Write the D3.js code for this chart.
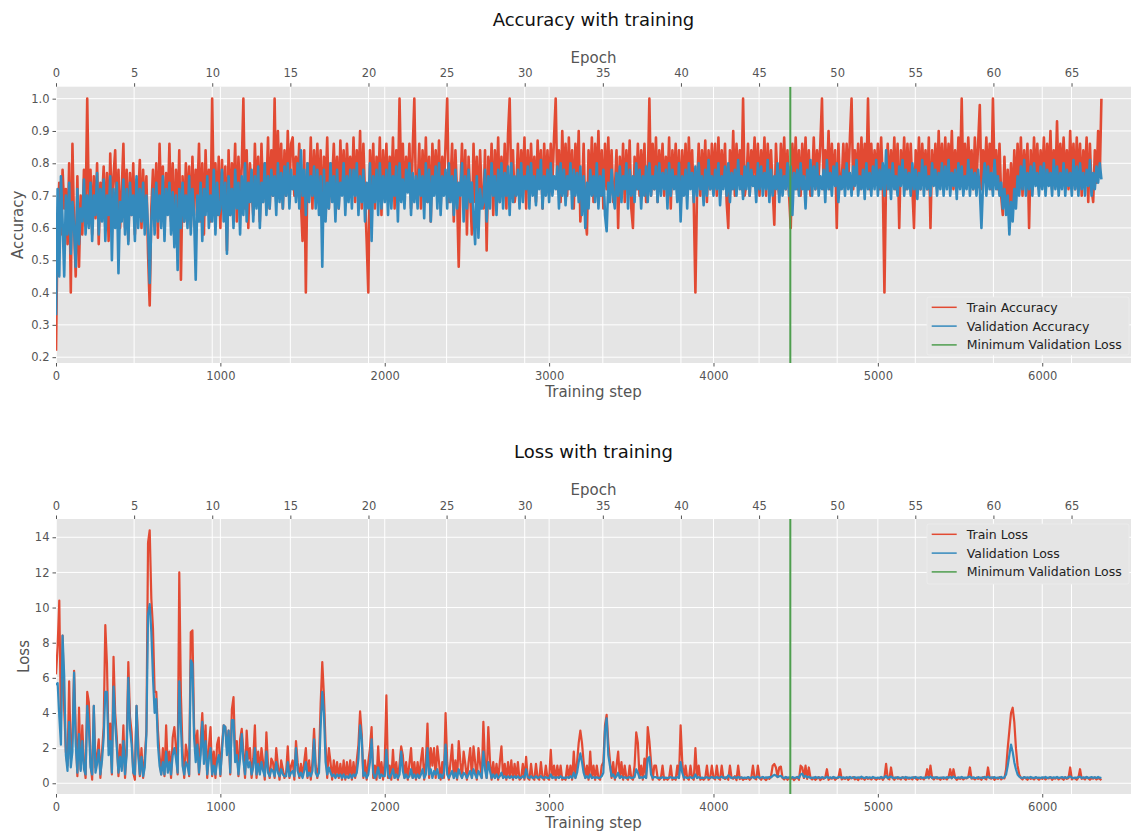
<!DOCTYPE html>
<html>
<head>
<meta charset="utf-8">
<script src="https://cdn.jsdelivr.net/npm/d3@7/dist/d3.min.js"></script>
<style>
  body { margin: 0; background: #ffffff; }
  svg { display: block; font-family: "DejaVu Sans", sans-serif; }
</style>
</head>
<body>
<svg id="chart" width="1133" height="832"></svg>
<script>
// Metrics were logged every LOG_EVERY training steps.
const LOG_EVERY = 10;
const STEPS_PER_EPOCH = 95.05;
const MIN_VAL_LOSS_EPOCH = 47;
const STEP_MAX = 6540;

const stepTicks = [0, 1000, 2000, 3000, 4000, 5000, 6000];
const epochTicks = [0, 5, 10, 15, 20, 25, 30, 35, 40, 45, 50, 55, 60, 65];
const accTicks = [0.2, 0.3, 0.4, 0.5, 0.6, 0.7, 0.8, 0.9, 1.0];
const lossTicks = [0, 2, 4, 6, 8, 10, 12, 14];

const trainAcc = [
  .22,.62,.74,.58,.78,.66,.72,.55,.80,.40,.86,.60,.45,.76,.48,.70,.58,.78,.64,1.0,
  .66,.78,.58,.76,.63,.80,.55,.74,.68,.79,.60,.77,.56,.83,.65,.76,.84,.62,.78,.60,
  .72,.86,.60,.78,.56,.77,.64,.80,.58,.75,.69,.81,.60,.78,.64,.76,.52,.36,.66,.78,
  .62,.80,.57,.86,.68,.79,.60,.77,.66,.86,.62,.80,.56,.78,.64,.84,.44,.76,.62,.80,
  .66,.79,.60,.82,.64,.78,.70,.86,.62,.80,.58,.84,.66,.78,.62,1.0,.68,.80,.64,.82,
  .60,.81,.66,.79,.53,.84,.64,.80,.70,.86,.62,.82,.68,.79,1.0,.66,.84,.60,.80,.72,
  .64,.86,.70,.82,.62,.86,.68,.80,.72,.88,.66,.84,.70,1.0,.68,.90,.72,.86,.66,.84,
  .70,.90,.72,.86,.88,.70,.82,.74,.86,.68,.56,.84,.40,.80,.70,.88,.66,.84,.72,.86,
  .68,.84,.62,.82,.72,.88,.66,.80,.74,.86,.70,.82,.66,.87,.72,.84,.68,.86,.74,.82,
  .70,.88,.68,.84,.72,.90,.66,.86,.70,.56,.40,.84,.70,.86,.66,.82,.72,.88,.64,.84,
  .70,.86,.68,.82,.72,.88,.66,.84,.70,1.0,.74,.86,.68,.82,.72,.86,.66,.84,1.0,.70,
  .72,.86,.66,.84,.70,.88,.68,.82,.62,.86,.72,.84,.70,.87,.66,.82,.72,.86,1.0,.68,
  .74,.86,.62,.84,.70,.48,.72,.86,.66,.84,.58,.82,.70,.58,.86,.68,.82,.64,.84,.70,
  .66,.84,.53,.82,.70,.86,.64,.84,.72,.88,.68,.82,.70,.86,.66,.89,1.0,.72,.84,.68,
  .72,.86,.68,.84,.74,.88,.66,.84,.70,.86,.72,.82,.68,.87,.74,.84,.66,.86,.72,.84,
  .70,.86,.74,.88,1.0,.72,.84,.68,.90,.74,.86,.70,.88,.72,.84,.66,.86,.74,.90,.62,
  .70,.86,.64,.58,.84,.72,.88,.68,.86,.74,.90,.70,.84,.66,.86,.72,.88,.70,.84,.68,
  .72,.84,.60,.82,.70,.86,.68,.84,.72,.87,.66,.60,.82,.72,.86,.70,.84,.74,.86,.68,
  .74,1.0,.70,.86,.72,.88,.68,.84,.74,.86,.70,.82,.72,.88,.66,.84,.74,.86,.70,.84,
  .66,.84,.72,.86,.70,.88,.74,.84,.68,.40,.72,.86,.70,.84,.74,.87,.68,.84,.72,.86,
  .74,.86,.70,.88,.72,.84,.74,.86,.68,.60,.84,.72,.90,.70,.86,.74,.84,.72,1.0,.70,
  .74,.86,.70,.84,.76,.88,.72,.86,.70,.84,.74,.88,.70,.86,.74,.84,.72,.61,.86,.74,
  .70,.86,.74,.88,.72,.84,.70,.60,.86,.74,.88,.72,.84,.70,.86,.74,.88,.72,.84,.70,
  .74,.88,.72,.84,.76,.86,1.0,.72,.84,.74,.90,.72,.86,.74,.84,.60,.86,.72,.74,.86,
  .72,.86,.74,.88,1.0,.72,.84,.76,.86,.72,.88,.74,.86,.74,1.0,.72,.86,.74,.84,.76,
  .86,.72,.88,.74,.40,.76,.86,.72,.84,.74,.88,.72,.86,.60,.84,.74,.88,.72,.86,.74,
  .86,.72,.60,.84,.74,.88,.72,.86,.76,.84,.72,.88,.60,.84,.74,.86,.72,.90,.74,.86,
  .72,.88,.74,.86,.76,.90,.72,.84,.74,.88,.76,1.0,.72,.86,.74,.88,.76,.84,.72,.88,
  .74,.86,.98,.72,.84,.76,.88,.74,.86,.72,1.0,.76,.84,.72,.86,.70,.64,.82,.66,.78,
  .64,.80,.66,.84,.70,.86,.72,.88,.70,.84,.74,.86,.60,.84,.72,.88,.74,.86,.72,.84,
  .74,.88,.72,.86,.76,.90,.72,.84,.74,.93,.72,.86,.76,.88,.74,.84,.72,.90,.74,.86,
  .72,.88,.74,.86,.70,.84,.76,.88,.68,.86,.72,.68,.84,.74,.90,.76,1.0
];

const valAcc = [
  .33,.72,.45,.76,.62,.45,.70,.58,.74,.52,.68,.60,.48,.72,.55,.66,.62,.75,.58,.70,
  .60,.74,.56,.70,.64,.77,.58,.72,.62,.75,.56,.70,.64,.76,.50,.72,.60,.74,.46,.68,
  .62,.75,.58,.72,.55,.74,.64,.70,.56,.76,.60,.72,.62,.74,.58,.70,.60,.43,.62,.72,
  .58,.74,.62,.70,.60,.76,.56,.72,.64,.74,.58,.71,.54,.70,.47,.72,.60,.74,.62,.70,
  .60,.76,.58,.72,.64,.44,.70,.62,.74,.56,.72,.64,.76,.60,.70,.62,.78,.58,.74,.64,
  .66,.78,.62,.74,.52,.76,.64,.72,.60,.78,.66,.74,.58,.76,.64,.80,.62,.74,.68,.78,
  .62,.76,.66,.79,.60,.74,.68,.80,.64,.76,.66,.78,.70,.76,.64,.80,.68,.77,.66,.79,
  .70,.80,.66,.78,.72,.76,.68,.80,.66,.84,.70,.78,.64,.80,.68,.76,.70,.79,.66,.78,
  .64,.76,.48,.78,.62,.74,.66,.80,.68,.76,.62,.78,.66,.74,.70,.80,.64,.76,.68,.78,
  .66,.78,.70,.80,.64,.76,.68,.78,.62,.74,.66,.80,.56,.76,.68,.78,.64,.80,.66,.76,
  .68,.78,.64,.80,.66,.76,.70,.79,.62,.80,.68,.75,.66,.78,.71,.80,.64,.77,.68,.76,
  .66,.78,.70,.76,.63,.80,.68,.78,.62,.76,.70,.79,.66,.80,.64,.76,.70,.78,.66,.80,
  .68,.76,.64,.78,.66,.74,.70,.80,.62,.76,.66,.78,.68,.74,.64,.55,.76,.57,.72,.66,
  .68,.78,.62,.76,.66,.80,.70,.76,.64,.78,.68,.80,.66,.77,.70,.79,.64,.80,.68,.76,
  .70,.78,.66,.80,.68,.76,.72,.79,.66,.80,.70,.76,.67,.78,.72,.81,.66,.76,.70,.78,
  .68,.80,.70,.76,.72,.79,.66,.80,.70,.78,.67,.76,.72,.80,.66,.78,.70,.77,.68,.79,
  .64,.76,.60,.74,.66,.78,.70,.76,.68,.80,.66,.76,.70,.78,.64,.59,.74,.68,.78,.70,
  .66,.77,.70,.79,.68,.76,.72,.80,.66,.78,.70,.76,.68,.80,.72,.78,.66,.76,.70,.79,
  .68,.80,.70,.76,.72,.79,.68,.80,.70,.77,.72,.78,.66,.80,.70,.78,.72,.76,.68,.80,
  .62,.76,.70,.78,.66,.80,.72,.77,.68,.79,.70,.80,.72,.76,.67,.78,.70,.81,.72,.76,
  .70,.78,.72,.80,.67,.76,.72,.79,.70,.80,.68,.77,.72,.78,.70,.81,.72,.76,.69,.79,
  .72,.80,.70,.78,.73,.76,.68,.80,.72,.79,.70,.77,.72,.81,.68,.78,.70,.76,.72,.80,
  .68,.78,.70,.76,.72,.80,.70,.79,.64,.77,.72,.78,.70,.80,.72,.76,.66,.78,.72,.81,
  .70,.79,.72,.80,.70,.76,.72,.78,.68,.81,.72,.77,.70,.79,.73,.80,.68,.76,.72,.78,
  .70,.80,.72,.77,.70,.79,.73,.81,.70,.76,.72,.78,.69,.80,.72,.77,.70,.79,.72,.81,
  .70,.78,.72,.80,.70,.84,.72,.78,.69,.80,.72,.76,.70,.79,.73,.81,.70,.78,.72,.77,
  .70,.80,.72,.78,.69,.77,.72,.81,.70,.79,.72,.76,.70,.80,.73,.78,.70,.77,.72,.80,
  .70,.79,.72,.81,.70,.77,.73,.78,.69,.80,.72,.79,.70,.76,.72,.81,.70,.78,.72,.77,
  .70,.78,.72,.60,.74,.80,.70,.79,.72,.77,.70,.81,.72,.76,.70,.74,.66,.72,.64,.70,
  .58,.68,.62,.72,.66,.76,.70,.79,.72,.81,.70,.77,.72,.79,.70,.80,.73,.77,.70,.79,
  .72,.80,.70,.78,.73,.77,.70,.81,.72,.79,.70,.77,.72,.80,.70,.78,.73,.77,.70,.81,
  .72,.79,.70,.80,.72,.77,.70,.78,.73,.81,.70,.77,.72,.79,.74,.80,.75
];

const trainLoss = [
  6.2,7.8,10.4,3.5,8.4,4.2,1.8,1.0,5.8,1.4,2.6,6.4,3.0,0.4,4.3,0.8,3.3,1.1,0.3,5.2,
  4.6,1.2,0.2,4.4,0.9,1.6,2.5,0.3,1.8,3.2,9.0,6.8,2.1,3.4,0.5,7.2,4.0,2.6,0.4,2.2,
  1.0,3.3,0.3,2.2,6.9,3.8,2.9,0.6,0.2,4.4,2.4,0.4,2.0,0.3,1.4,3.0,13.7,14.4,10.5,8.8,
  5.2,5.2,3.0,1.6,0.5,2.0,0.4,3.3,0.9,1.8,0.3,2.6,3.2,2.0,0.5,12.0,5.0,1.8,0.3,2.2,
  1.6,0.4,8.6,8.7,3.2,2.0,3.0,0.5,2.4,4.0,1.6,3.3,0.3,2.1,3.2,0.4,1.8,0.3,2.2,2.6,
  0.4,2.2,3.3,3.2,2.0,3.0,0.5,4.2,4.9,1.6,2.4,0.4,2.5,3.1,1.8,0.3,3.0,1.4,2.0,0.3,
  1.4,3.3,0.3,1.8,0.6,2.0,1.2,0.2,2.9,1.0,0.3,1.4,1.2,0.3,2.0,1.0,0.2,1.3,0.8,0.3,
  0.6,2.1,0.3,1.0,1.3,0.2,2.4,1.2,0.3,1.1,0.4,1.2,2.0,0.3,1.3,0.2,1.2,3.1,1.0,0.3,
  1.2,4.5,6.9,5.0,2.2,0.3,2.0,1.2,0.2,1.3,0.4,1.2,0.3,1.1,0.2,1.3,0.2,1.2,0.3,1.3,
  0.2,1.2,0.3,1.3,2.2,4.1,2.8,0.3,1.3,0.2,1.2,2.0,3.2,0.3,1.0,0.2,2.1,0.3,1.2,0.2,
  1.3,5.0,0.3,1.0,0.2,1.9,0.3,1.2,0.2,1.1,2.1,1.6,0.3,1.2,0.2,1.1,2.0,0.3,1.2,0.2,
  1.2,0.3,1.3,2.0,0.2,1.2,3.4,0.3,2.0,1.0,2.0,0.3,2.1,1.2,0.2,1.2,0.3,4.0,1.2,0.2,
  1.2,2.2,0.3,1.3,0.2,2.4,1.2,0.3,1.8,1.1,0.2,1.2,2.0,0.3,2.1,1.2,0.2,2.0,1.1,0.3,
  3.5,1.2,0.3,3.2,1.3,0.2,1.2,0.3,1.1,0.2,1.2,2.1,0.3,1.1,0.2,1.2,0.3,1.3,0.2,1.1,
  0.3,1.2,0.2,0.3,1.1,0.2,1.5,0.3,0.2,1.1,0.3,0.2,1.1,0.3,0.2,1.2,0.3,0.2,1.0,0.3,
  0.2,1.9,0.3,1.0,0.2,1.0,0.3,1.0,0.2,0.3,0.2,1.0,0.3,1.0,0.2,1.8,0.3,1.2,2.3,3.0,
  2.3,1.2,0.3,1.0,0.2,1.8,0.3,1.0,0.2,1.0,0.3,0.2,1.0,1.2,3.3,3.9,2.3,1.3,0.3,1.2,
  0.2,1.0,1.8,0.3,1.2,0.2,1.0,0.3,0.2,1.0,0.3,0.2,1.0,2.9,2.3,0.3,1.0,0.2,1.4,0.3,
  3.2,2.4,1.2,0.2,1.0,1.0,0.3,0.2,0.3,1.0,0.2,0.3,0.2,0.3,1.0,0.2,0.3,0.2,1.0,0.3,
  3.3,1.2,0.2,1.0,0.3,0.2,1.0,0.3,0.2,2.0,0.3,1.0,0.2,0.3,0.2,0.3,1.0,0.2,0.3,1.0,
  0.3,0.22,1.0,0.28,0.2,1.0,0.32,0.25,0.35,0.2,1.0,0.3,0.26,0.4,0.18,1.0,0.24,0.33,0.2,0.28,
  0.25,0.35,0.2,0.3,1.0,0.28,0.22,1.0,0.3,0.2,0.35,0.26,0.18,0.32,0.25,0.4,1.0,1.1,0.9,0.35,
  0.9,0.95,0.3,0.22,0.35,0.2,0.3,0.25,0.32,0.18,0.28,0.35,0.2,1.0,0.9,0.3,1.0,0.25,0.9,0.3,
  0.22,0.32,0.2,0.28,0.35,0.18,0.3,0.25,0.33,0.8,0.2,0.3,0.26,0.35,0.2,0.28,0.32,0.8,0.22,0.3,
  0.25,0.33,0.2,0.3,0.28,0.35,0.22,0.3,0.18,0.32,0.26,0.3,0.2,0.35,0.25,0.3,0.22,0.33,0.28,0.2,
  0.3,0.25,0.35,0.2,0.32,1.1,0.28,0.22,0.9,0.3,0.2,0.33,0.26,0.3,0.22,0.35,0.28,0.2,0.32,0.25,
  0.3,0.22,0.35,0.28,0.2,0.32,0.25,0.3,0.22,0.35,0.8,0.28,1.0,0.3,0.22,0.33,0.26,0.3,0.2,0.32,
  0.25,0.3,0.22,0.35,0.8,0.28,0.8,0.32,0.2,0.3,0.25,0.33,0.22,0.3,0.28,0.35,0.9,0.26,0.3,0.22,
  0.32,0.25,0.3,0.2,0.35,0.28,0.22,0.9,0.3,0.26,0.33,0.2,0.3,0.25,0.35,0.22,0.3,0.28,0.8,2.0,
  3.0,4.0,4.3,3.5,2.0,1.0,0.5,0.3,0.22,0.35,0.28,0.2,0.32,0.25,0.3,0.22,0.33,0.28,0.2,0.3,
  0.25,0.32,0.22,0.3,0.28,0.35,0.2,0.3,0.26,0.33,0.22,0.3,0.28,0.2,0.35,0.25,0.3,0.9,0.22,0.3,
  0.28,0.2,0.32,0.8,0.25,0.3,0.22,0.35,0.28,0.2,0.3,0.26,0.33,0.22,0.3,0.25,0.18
];

const valLoss = [
  5.6,5.7,3.8,2.2,8.4,6.1,1.6,0.7,3.5,0.9,1.8,6.3,2.2,0.6,2.8,0.7,2.4,0.8,0.5,4.4,
  3.2,0.9,0.5,4.4,0.6,1.1,1.9,0.5,1.3,2.6,5.2,5.2,1.6,2.4,0.6,5.5,3.4,2.0,0.6,1.5,
  0.7,2.4,0.5,1.6,6.0,3.1,2.2,0.6,0.5,4.4,1.6,0.5,1.5,0.4,0.9,2.8,9.6,10.2,8.6,6.0,
  4.0,4.8,2.2,1.0,0.5,1.2,0.5,1.8,0.6,1.2,0.5,1.6,2.0,1.4,0.6,5.8,3.2,1.0,0.5,1.2,
  1.0,0.5,7.0,6.8,2.6,1.2,2.2,0.6,1.6,3.5,1.1,2.4,0.5,1.4,2.0,0.5,1.0,0.5,1.2,1.6,
  0.5,1.8,3.3,3.2,1.6,3.0,0.6,3.6,3.6,1.2,1.6,0.5,1.4,2.8,1.3,0.5,1.8,0.9,1.2,0.5,
  0.9,2.0,0.5,1.1,0.5,1.2,0.7,0.4,1.8,0.6,0.4,0.8,0.7,0.4,1.2,0.6,0.4,0.8,0.5,0.4,
  0.4,1.2,0.4,0.6,0.7,0.4,2.0,0.7,0.4,0.6,0.3,0.7,1.2,0.4,0.6,0.4,0.7,2.5,0.6,0.4,
  0.6,3.2,5.2,4.0,1.2,0.5,0.9,0.6,0.4,0.5,0.3,0.5,0.4,0.5,0.3,0.5,0.3,0.4,0.3,0.5,
  0.3,0.5,0.4,0.6,1.4,3.3,2.5,0.4,0.6,0.3,0.5,1.2,2.5,0.6,0.3,0.5,0.9,0.3,0.5,0.4,
  0.4,1.9,0.5,0.3,0.5,0.8,0.3,0.5,0.3,0.5,1.8,0.7,0.3,0.5,0.3,0.4,0.8,0.3,0.5,0.3,
  0.5,0.3,0.5,0.8,0.3,0.5,2.0,0.5,0.8,0.3,0.7,0.5,0.8,0.3,0.5,0.3,0.6,2.2,0.5,0.3,
  0.5,0.7,0.3,0.6,0.3,0.8,0.5,0.3,0.6,0.5,0.3,0.5,0.7,0.3,0.8,0.5,0.3,0.7,0.5,0.3,
  1.8,0.8,0.3,1.2,0.7,0.3,0.5,0.3,0.5,0.3,0.4,0.6,0.3,0.4,0.3,0.4,0.3,0.4,0.3,0.4,
  0.3,0.4,0.3,0.32,0.4,0.3,0.8,0.35,0.3,0.4,0.3,0.32,0.4,0.3,0.33,0.4,0.3,0.32,0.35,0.3,
  0.3,0.5,0.3,0.35,0.3,0.35,0.3,0.4,0.3,0.32,0.3,0.35,0.3,0.4,0.3,0.6,0.3,0.6,1.2,1.7,
  1.2,0.6,0.3,0.4,0.3,0.5,0.3,0.35,0.3,0.35,0.3,0.32,0.4,0.6,3.0,3.7,1.6,1.0,0.4,0.5,
  0.3,0.4,0.6,0.3,0.4,0.3,0.35,0.3,0.32,0.35,0.3,0.32,0.35,0.8,0.6,0.3,0.35,0.3,0.4,0.3,
  1.4,1.5,0.5,0.3,0.35,0.35,0.3,0.32,0.3,0.35,0.3,0.32,0.3,0.33,0.35,0.3,0.32,0.3,0.35,0.3,
  1.2,0.6,0.3,0.35,0.3,0.32,0.35,0.3,0.32,0.5,0.3,0.35,0.3,0.32,0.3,0.33,0.35,0.3,0.32,0.35,
  0.32,0.3,0.36,0.3,0.33,0.38,0.3,0.34,0.3,0.45,0.36,0.3,0.33,0.35,0.3,0.36,0.31,0.34,0.3,0.33,
  0.3,0.35,0.31,0.33,0.36,0.3,0.34,0.38,0.3,0.33,0.36,0.3,0.34,0.31,0.36,0.33,0.42,0.48,0.44,0.36,
  0.4,0.42,0.33,0.3,0.36,0.31,0.34,0.3,0.35,0.31,0.33,0.36,0.3,0.5,0.55,0.36,0.42,0.33,0.38,0.3,
  0.33,0.3,0.36,0.31,0.34,0.3,0.35,0.32,0.3,0.38,0.31,0.34,0.3,0.36,0.32,0.3,0.35,0.36,0.31,0.34,
  0.3,0.34,0.31,0.36,0.3,0.33,0.35,0.3,0.34,0.31,0.38,0.32,0.3,0.35,0.31,0.34,0.3,0.36,0.32,0.3,
  0.33,0.3,0.36,0.31,0.34,0.42,0.3,0.35,0.38,0.31,0.33,0.3,0.35,0.32,0.3,0.34,0.31,0.36,0.3,0.33,
  0.31,0.34,0.3,0.36,0.32,0.3,0.35,0.31,0.33,0.3,0.36,0.32,0.38,0.3,0.34,0.31,0.35,0.3,0.33,0.31,
  0.34,0.3,0.35,0.31,0.36,0.3,0.38,0.32,0.3,0.34,0.31,0.36,0.3,0.33,0.31,0.35,0.38,0.3,0.34,0.31,
  0.3,0.35,0.31,0.33,0.3,0.36,0.32,0.38,0.3,0.34,0.31,0.35,0.3,0.33,0.31,0.36,0.3,0.34,0.5,1.0,
  1.6,2.2,1.8,1.2,0.8,0.5,0.38,0.32,0.3,0.35,0.31,0.34,0.3,0.36,0.32,0.3,0.35,0.31,0.33,0.3,
  0.34,0.31,0.36,0.3,0.33,0.35,0.3,0.34,0.31,0.36,0.3,0.33,0.35,0.31,0.34,0.3,0.36,0.4,0.32,0.3,
  0.33,0.31,0.35,0.38,0.3,0.34,0.31,0.36,0.3,0.33,0.35,0.31,0.34,0.3,0.36,0.32,0.3
];

const COLORS = { train: "#E24A33", val: "#348ABD", best: "#4E9E4E" };

const svg = d3.select("#chart");
const PLOT_LEFT = 56, PLOT_RIGHT = 1131;

function drawPanel(cfg) {
  const g = svg.append("g");
  const top = cfg.top, bottom = cfg.bottom;

  const x = d3.scaleLinear().domain([0, STEP_MAX]).range([PLOT_LEFT, PLOT_RIGHT]);
  const xEpoch = d3.scaleLinear().domain([0, STEP_MAX / STEPS_PER_EPOCH]).range([PLOT_LEFT, PLOT_RIGHT]);
  const y = d3.scaleLinear().domain(cfg.yDomain).range([bottom, top]);

  // panel background
  g.append("rect")
    .attr("x", PLOT_LEFT).attr("y", top)
    .attr("width", PLOT_RIGHT - PLOT_LEFT).attr("height", bottom - top)
    .attr("fill", "#E5E5E5");

  // white grid from both x axes and the y axis
  const grid = g.append("g").attr("stroke", "#ffffff").attr("stroke-width", 1);
  grid.selectAll(".gy").data(cfg.yTicks).join("line")
    .attr("x1", PLOT_LEFT).attr("x2", PLOT_RIGHT)
    .attr("y1", d => y(d)).attr("y2", d => y(d));
  grid.selectAll(".gx").data(stepTicks).join("line")
    .attr("x1", d => x(d)).attr("x2", d => x(d))
    .attr("y1", top).attr("y2", bottom);
  grid.selectAll(".ge").data(epochTicks).join("line")
    .attr("x1", d => xEpoch(d)).attr("x2", d => xEpoch(d))
    .attr("y1", top).attr("y2", bottom);

  // series
  const clipId = "clip" + cfg.id;
  svg.append("clipPath").attr("id", clipId).append("rect")
    .attr("x", PLOT_LEFT).attr("y", top)
    .attr("width", PLOT_RIGHT - PLOT_LEFT).attr("height", bottom - top);
  const line = d3.line().x((d, i) => x(i * LOG_EVERY)).y(d => y(d));
  const plot = g.append("g").attr("clip-path", `url(#${clipId})`);
  cfg.series.forEach(s => {
    plot.append("path")
      .attr("d", line(s.values))
      .attr("fill", "none")
      .attr("stroke", s.color)
      .attr("stroke-width", cfg.lineWidth)
      .attr("stroke-linejoin", "round");
  });

  // epoch of minimum validation loss
  const bx = x(MIN_VAL_LOSS_EPOCH * STEPS_PER_EPOCH);
  plot.append("line")
    .attr("x1", bx).attr("x2", bx).attr("y1", top).attr("y2", bottom)
    .attr("stroke", COLORS.best).attr("stroke-width", 2);

  // axes
  const tickStyle = sel => {
    sel.select(".domain").remove();
    sel.selectAll(".tick line").attr("stroke", "#555555");
    sel.selectAll(".tick text").attr("fill", "#555555")
      .style("font-size", "11.5px").style("font-family", "DejaVu Sans, sans-serif");
  };
  g.append("g").attr("transform", `translate(0,${bottom})`)
    .call(d3.axisBottom(x).tickValues(stepTicks).tickFormat(d3.format("d")).tickSize(3.5).tickPadding(5))
    .call(tickStyle);
  g.append("g").attr("transform", `translate(0,${top})`)
    .call(d3.axisTop(xEpoch).tickValues(epochTicks).tickFormat(d3.format("d")).tickSize(3.5).tickPadding(6))
    .call(tickStyle);
  g.append("g").attr("transform", `translate(${PLOT_LEFT},0)`)
    .call(d3.axisLeft(y).tickValues(cfg.yTicks).tickFormat(cfg.yFormat).tickSize(3.5).tickPadding(3))
    .call(tickStyle);

  // labels
  const labelStyle = t => t.attr("fill", "#555555").style("font-size", "15px");
  g.append("text").attr("x", (PLOT_LEFT + PLOT_RIGHT) / 2).attr("y", bottom + 33.5)
    .attr("text-anchor", "middle").text("Training step").call(labelStyle);
  g.append("text").attr("x", (PLOT_LEFT + PLOT_RIGHT) / 2).attr("y", top - 24)
    .attr("text-anchor", "middle").text("Epoch").call(labelStyle);
  g.append("text")
    .attr("transform", `translate(${cfg.yLabelX},${(top + bottom) / 2}) rotate(-90)`)
    .attr("text-anchor", "middle").text(cfg.yLabel).call(labelStyle);
  g.append("text").attr("x", (PLOT_LEFT + PLOT_RIGHT) / 2).attr("y", top - 61)
    .attr("text-anchor", "middle").attr("fill", "#111111")
    .style("font-size", "18px").text(cfg.title);

  // legend
  const L = cfg.legend;
  const lg = g.append("g").attr("transform", `translate(${L.x},${L.y})`);
  lg.append("rect").attr("width", L.w).attr("height", L.h).attr("rx", 2)
    .attr("fill", "#E5E5E5").attr("stroke", "#EDEDED").attr("stroke-width", 0.8);
  L.items.forEach((it, i) => {
    const cy = 10.3 + i * 18.8;
    lg.append("line").attr("x1", 4.7).attr("x2", 29.7).attr("y1", cy).attr("y2", cy)
      .attr("stroke", it.color).attr("stroke-width", 1.5);
    lg.append("text").attr("x", 39.7).attr("y", cy + 4.5).attr("fill", "#222222")
      .style("font-size", "12.5px").text(it.label);
  });
}

drawPanel({
  id: "acc",
  title: "Accuracy with training",
  top: 86.7, bottom: 363,
  yDomain: [0.182, 1.037],
  yTicks: accTicks,
  yFormat: d3.format(".1f"),
  yLabel: "Accuracy", yLabelX: 22.6,
  lineWidth: 2.6,
  series: [
    { values: trainAcc, color: COLORS.train },
    { values: valAcc, color: COLORS.val }
  ],
  legend: {
    x: 927, y: 297, w: 202, h: 58,
    items: [
      { label: "Train Accuracy", color: COLORS.train },
      { label: "Validation Accuracy", color: COLORS.val },
      { label: "Minimum Validation Loss", color: COLORS.best }
    ]
  }
});

drawPanel({
  id: "loss",
  title: "Loss with training",
  top: 519, bottom: 794,
  yDomain: [-0.61, 15.04],
  yTicks: lossTicks,
  yFormat: d3.format("d"),
  yLabel: "Loss", yLabelX: 29.2,
  lineWidth: 2.2,
  series: [
    { values: trainLoss, color: COLORS.train },
    { values: valLoss, color: COLORS.val }
  ],
  legend: {
    x: 927, y: 524, w: 202, h: 60,
    items: [
      { label: "Train Loss", color: COLORS.train },
      { label: "Validation Loss", color: COLORS.val },
      { label: "Minimum Validation Loss", color: COLORS.best }
    ]
  }
});
</script>
</body>
</html>
